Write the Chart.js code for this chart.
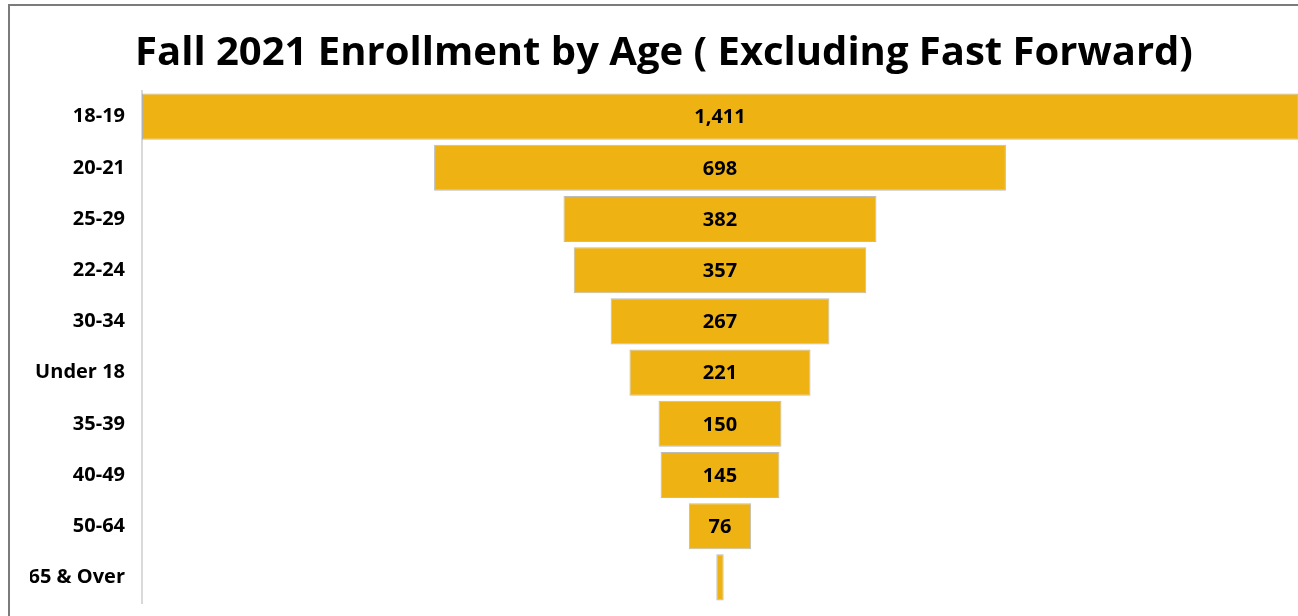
<!DOCTYPE html>
<html>
<head>
<meta charset="utf-8">
<script src="https://cdn.jsdelivr.net/npm/chart.js@4.4.0/dist/chart.umd.min.js"></script>
<style>
html,body{margin:0;padding:0;background:#fff;}
#wrap{position:absolute;left:0;top:0;width:1298px;height:616px;}
</style>
</head>
<body>
<div id="wrap"><canvas id="c" width="1298" height="616"></canvas></div>
<script>
const categories = ["18-19","20-21","25-29","22-24","30-34","Under 18","35-39","40-49","50-64","65 & Over"];
const enrollment = [1411, 698, 382, 357, 267, 221, 150, 145, 76, 9];
const chartTitle = "Fall 2021 Enrollment by Age ( Excluding Fast Forward)";

const maxVal = Math.max(...enrollment);
const FONT = "'Open Sans', Lato, sans-serif";

const framePlugin = {
  id: 'frame',
  beforeDraw(chart) {
    const ctx = chart.ctx;
    ctx.save();
    ctx.fillStyle = '#fff';
    ctx.fillRect(0, 0, chart.width, chart.height);
    ctx.strokeStyle = '#7b7b7b';
    ctx.lineWidth = 2;
    ctx.strokeRect(9, 5, chart.width + 20, chart.height + 20);
    ctx.restore();
  }
};

const labelPlugin = {
  id: 'barLabels',
  afterDatasetsDraw(chart) {
    const ctx = chart.ctx;
    const meta = chart.getDatasetMeta(0);
    ctx.save();
    ctx.font = "bold 20px " + FONT;
    ctx.fillStyle = '#000';
    ctx.textAlign = 'center';
    ctx.textBaseline = 'middle';
    meta.data.forEach((bar, i) => {
      const txt = enrollment[i].toLocaleString('en-US');
      const w = Math.abs(bar.x - bar.base);
      if (ctx.measureText(txt).width > w) return;
      ctx.fillText(txt, (bar.x + bar.base) / 2, bar.y + 1);
    });
    ctx.restore();
  }
};

new Chart(document.getElementById('c'), {
  type: 'bar',
  data: {
    labels: categories,
    datasets: [{
      data: enrollment.map(v => [-v / 2, v / 2]),
      backgroundColor: '#EEB313',
      borderColor: 'rgba(160,160,160,0.7)',
      borderWidth: 1,
      borderSkipped: false,
      categoryPercentage: 0.9,
      barPercentage: 1.0
    }]
  },
  options: {
    indexAxis: 'y',
    responsive: false,
    animation: false,
    devicePixelRatio: 1,
    layout: { padding: { left: 30, right: 0, top: 29.5, bottom: 13 } },
    plugins: {
      legend: { display: false },
      tooltip: { enabled: false },
      title: {
        display: true,
        text: chartTitle,
        color: '#000',
        font: { family: FONT, size: 40, weight: 'bold', lineHeight: 1.2 },
        padding: { top: 0, bottom: 13.5 }
      }
    },
    scales: {
      x: {
        display: false,
        min: -maxVal / 2,
        max: maxVal / 2
      },
      y: {
        afterFit(scale) { scale.width = 112; scale.paddingTop = 0; scale.paddingBottom = 0; },
        grid: { display: false, drawTicks: false },
        border: { display: true, color: '#d9d9d9', width: 2 },
        ticks: {
          color: '#000',
          padding: 17,
          font: { family: FONT, size: 20, weight: 'bold' }
        }
      }
    }
  },
  plugins: [framePlugin, labelPlugin]
});
</script>
</body>
</html>
